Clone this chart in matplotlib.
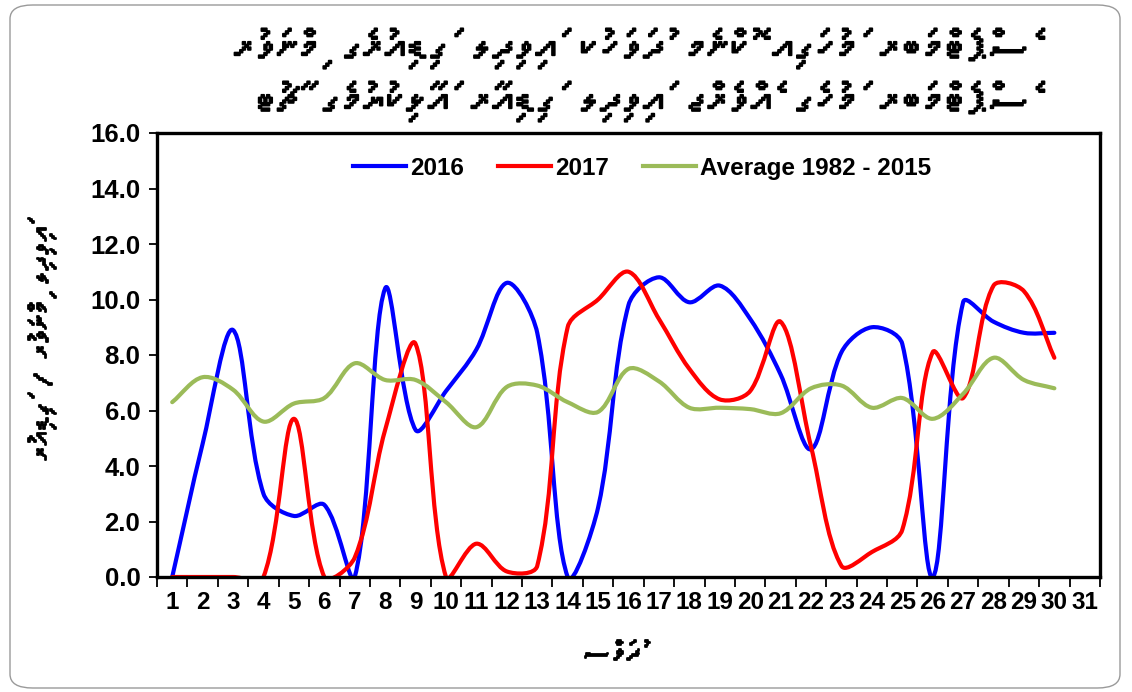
import unicodedata
import numpy as np
import matplotlib
matplotlib.use("Agg")
import matplotlib.pyplot as plt
from matplotlib import font_manager
from matplotlib import patheffects
from matplotlib.ft2font import FT2Font
from matplotlib.path import Path
from matplotlib.patches import PathPatch, FancyBboxPatch
from matplotlib.lines import Line2D

# ---------------- data ----------------
days = list(range(1, 31))
tick_labels = [str(d) for d in range(1, 32)]
series_2016 = [0.0, 4.8, 8.9, 3.0, 2.2, 2.6, 0.0, 10.4, 5.3, 6.7, 8.2, 10.6, 8.8, 0.0, 2.5,
               9.8, 10.8, 9.9, 10.5, 9.3, 7.3, 4.6, 8.1, 9.0, 8.4, 0.0, 9.9, 9.2, 8.8, 8.8]
series_2017 = [0.0, 0.0, 0.0, 0.0, 5.7, 0.0, 0.7, 5.3, 8.4, 0.0, 1.2, 0.2, 0.4, 9.0, 10.0,
               11.0, 9.3, 7.5, 6.4, 6.7, 9.2, 4.7, 0.4, 0.9, 1.7, 8.1, 6.45, 10.5, 10.3, 7.9]
series_avg = [6.3, 7.2, 6.75, 5.6, 6.25, 6.45, 7.7, 7.1, 7.1, 6.3, 5.4, 6.85, 6.9, 6.3, 5.95,
              7.5, 7.05, 6.1, 6.1, 6.05, 5.9, 6.8, 6.9, 6.1, 6.45, 5.7, 6.6, 7.9, 7.1, 6.8]
legend_labels = ["2016", "2017", "Average 1982 - 2015"]
y_ticks = [0, 2, 4, 6, 8, 10, 12, 14, 16]

title_line1 = "ސެޕްޓެމްބަރ މަހުގައި ކޮންމެ ދުވަހަކު އަވިދިލި ގަޑިއިރުގެ މިންވަރު"
title_line2 = "ސެޕްޓެމްބަރ މަހުގެ އެވްރެޖް އަވިދިލި ގަޑިއިރާ އަޅާކިޔުމުގެ ޗާޓު"
y_label = "އަވިދިލި މިންވަރު / ގަޑިއިރު"
x_label = "ދުވަސް"

W, H = 1132, 692
AX_L, AX_R, AX_T, AX_B = 157, 1100, 133, 577
XMIN, XMAX, YMIN, YMAX = 0.5, 31.5, 0.0, 16.0


# ---------------- helpers ----------------
def find_thaana_font():
    for f in font_manager.fontManager.ttflist:
        try:
            cm = FT2Font(f.fname).get_charmap()
            if 0x0784 in cm and 0x07A6 in cm:
                return f.name
        except Exception:
            pass
    return None


def visual(s):
    clusters = []
    for ch in s:
        if clusters and unicodedata.category(ch) == "Mn":
            clusters[-1] += ch
        else:
            clusters.append(ch)
    return "".join(reversed(clusters))


def smooth_path(xs, ys):
    """Excel-like smoothed line: Bezier segments with tangents scaled by chord lengths."""
    pts = np.column_stack([xs, ys]).astype(float)
    sx = (AX_R - AX_L) / (XMAX - XMIN)
    sy = (AX_B - AX_T) / (YMAX - YMIN)
    scale = np.array([sx, sy])
    n = len(pts)

    def d(i, j):
        if i < 0 or j >= n:
            return 0.0
        return float(np.hypot(*((pts[j] - pts[i]) * scale)))

    def tangent(i):
        a = pts[i - 1] if i > 0 else pts[i]
        b = pts[i + 1] if i + 1 < n else pts[i]
        return b - a

    f = 1.0 / 3.0
    verts = [pts[0]]
    codes = [Path.MOVETO]
    for i in range(n - 1):
        dcur = d(i, i + 1)
        dprev = d(i - 1, i)
        dnext = d(i + 1, i + 2)
        r1 = dcur / (dprev + dcur) if (dprev + dcur) > 0 else 0.5
        r2 = dcur / (dcur + dnext) if (dcur + dnext) > 0 else 0.5
        c1 = pts[i] + tangent(i) * f * r1
        c2 = pts[i + 1] - tangent(i + 1) * f * r2
        verts += [c1, c2, pts[i + 1]]
        codes += [Path.CURVE4] * 3
    return Path(verts, codes)


thaana = find_thaana_font()
thaana_family = [thaana, "DejaVu Sans"] if thaana else ["DejaVu Sans"]
bold_fx = [patheffects.withStroke(linewidth=1.3, foreground="black")]

plt.rcParams["font.family"] = ["Liberation Sans", "DejaVu Sans"]

fig = plt.figure(figsize=(W / 100, H / 100), dpi=100)
fig.patch.set_facecolor("white")

# rounded outer border
border = FancyBboxPatch((10 / W, 4 / H), 1110 / W, 683 / H,
                        boxstyle="round,pad=0,rounding_size=0.02",
                        transform=fig.transFigure, fill=False,
                        edgecolor="#9a9a9a", linewidth=1.0)
fig.patches.append(border)

ax = fig.add_axes([AX_L / W, (H - AX_B) / H, (AX_R - AX_L) / W, (AX_B - AX_T) / H])

colors = ["#0000FF", "#FF0000", "#9BBB59"]
for vals, col in [(series_2016, colors[0]), (series_2017, colors[1]), (series_avg, colors[2])]:
    patch = PathPatch(smooth_path(days, vals), fill=False, edgecolor=col,
                      linewidth=3.0, capstyle="round", joinstyle="round")
    ax.add_patch(patch)

ax.set_xlim(XMIN, XMAX)
ax.set_ylim(YMIN, YMAX)

# x ticks: marks at category boundaries, labels at centers
ax.set_xticks(np.arange(0.5, 32.0, 1.0))
ax.set_xticklabels([])
ax.set_xticks(np.arange(1, 32), minor=True)
ax.set_xticklabels(tick_labels, minor=True, fontsize=17.5, fontweight="bold")
ax.tick_params(axis="x", which="major", direction="out", length=7, width=1.3, color="black")
ax.tick_params(axis="x", which="minor", length=0, pad=10)

ax.set_yticks(y_ticks)
ax.set_yticklabels([f"{v:.1f}" for v in y_ticks], fontsize=18.5, fontweight="bold")
ax.tick_params(axis="y", direction="out", length=6, width=1.3, pad=6)

for sp in ax.spines.values():
    sp.set_linewidth(2.4)
    sp.set_color("black")

handles = [Line2D([0], [0], color=c, lw=3.0) for c in colors]
ax.legend(handles, legend_labels, loc="center", bbox_to_anchor=(0.514, 0.921), ncol=3,
          frameon=False, handlelength=2.2, columnspacing=1.4, handletextpad=0.15,
          prop={"family": "Liberation Sans", "weight": "bold", "size": 17.5})

# texts
fig.text(1030 / W, 1 - 48 / H, visual(title_line1), ha="right", va="center",
         fontsize=31, family=thaana_family, path_effects=bold_fx)
fig.text(1030 / W, 1 - 101 / H, visual(title_line2), ha="right", va="center",
         fontsize=31, family=thaana_family, path_effects=bold_fx)
fig.text(42 / W, 1 - 343 / H, visual(y_label), ha="center", va="center", rotation=90,
         fontsize=21, family=thaana_family, path_effects=bold_fx)
fig.text(612 / W, 1 - 655 / H, visual(x_label), ha="center", va="center",
         fontsize=21, family=thaana_family, path_effects=bold_fx)

fig.savefig("out.png", dpi=100)
